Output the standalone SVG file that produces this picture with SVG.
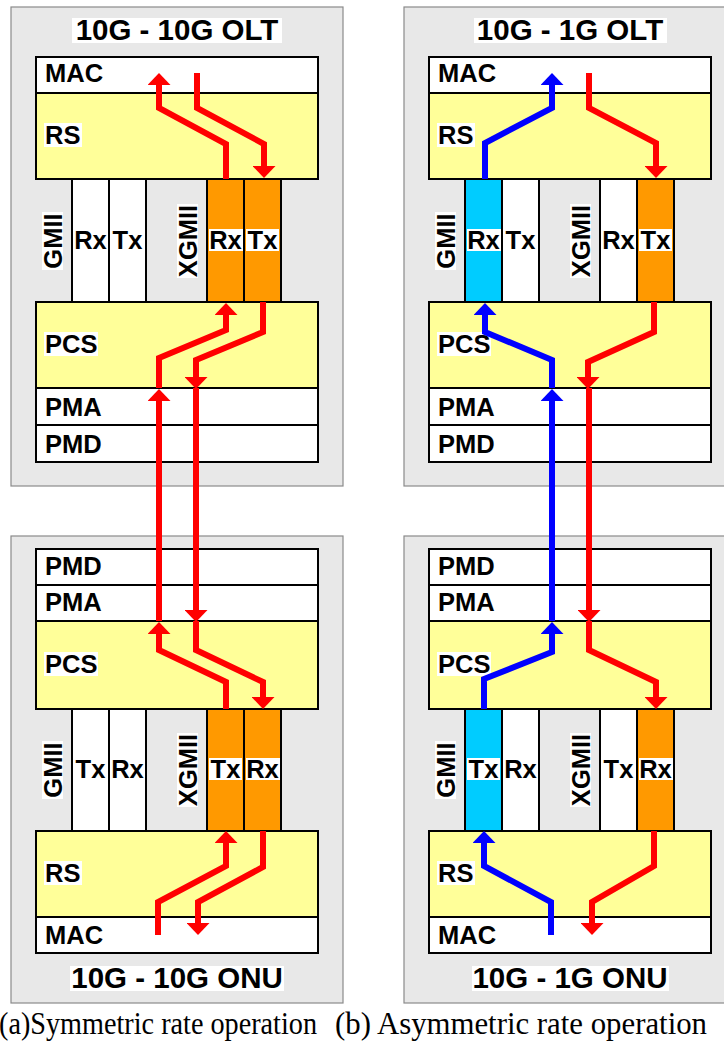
<svg xmlns="http://www.w3.org/2000/svg" width="724" height="1041" viewBox="0 0 724 1041">
<defs>
<style>
.panel{fill:#e8e8e8;stroke:#8a8a8a;stroke-width:1.2}
.w{fill:#ffffff;stroke:#000;stroke-width:2}
.y{fill:#ffff99;stroke:#000;stroke-width:2}
.o{fill:#ff9900;stroke:#000;stroke-width:2}
.c{fill:#00ccff;stroke:#000;stroke-width:2}
.bg{fill:#ffffff;stroke:none}
.lbl{font-family:"Liberation Sans",Arial,sans-serif;font-weight:bold;font-size:25.5px;fill:#000}
.mid{text-anchor:middle}
.ttl{font-family:"Liberation Sans",Arial,sans-serif;font-weight:bold;font-size:29.5px;fill:#000;text-anchor:middle}
.cap{font-family:"Liberation Serif","Times New Roman",serif;font-size:32px;fill:#000}
.red{fill:none;stroke:#ff0000;stroke-width:6;stroke-linejoin:miter;marker-end:url(#ahR)}
.blue{fill:none;stroke:#0000ff;stroke-width:6;stroke-linejoin:miter;marker-end:url(#ahB)}
</style>
<marker id="ahR" viewBox="0 0 12 23" refX="0" refY="11.5" markerWidth="12" markerHeight="23" markerUnits="userSpaceOnUse" orient="auto"><path d="M0,0 L12,11.5 L0,23 z" fill="#ff0000"/></marker>
<marker id="ahB" viewBox="0 0 12 23" refX="0" refY="11.5" markerWidth="12" markerHeight="23" markerUnits="userSpaceOnUse" orient="auto"><path d="M0,0 L12,11.5 L0,23 z" fill="#0000ff"/></marker>
</defs>
<rect width="724" height="1041" fill="#ffffff"/>

<!-- ===== (a) symmetric ===== -->
<g id="a-olt">
<rect class="panel" x="11" y="7" width="332" height="479"/>
<rect class="bg" x="72" y="18" width="210" height="25"/>
<text class="ttl" x="177" y="40">10G - 10G OLT</text>
</g>
<g id="a-olt-mac"><rect class="w" x="36" y="57" width="282" height="36"/><text class="lbl" x="45" y="82">MAC</text></g>
<g id="a-olt-rs"><rect class="y" x="36" y="93" width="282" height="86"/><rect class="bg" x="44" y="123" width="38" height="24"/><text class="lbl" x="45" y="144">RS</text></g>
<g id="a-olt-gmii">
<rect class="w" x="72" y="179" width="37" height="123"/><rect class="w" x="109" y="179" width="37" height="123"/>
<rect class="bg" x="42" y="212" width="21" height="58"/><text class="lbl mid" transform="translate(62,241) rotate(-90)">GMII</text>
<text class="lbl mid" x="90.5" y="249">Rx</text><text class="lbl mid" x="127.5" y="249">Tx</text>
</g>
<g id="a-olt-xgmii">
<rect class="o" x="207" y="179" width="37" height="123"/><rect class="o" x="244" y="179" width="37" height="123"/>
<rect class="bg" x="177" y="204" width="21" height="74"/><text class="lbl mid" transform="translate(197,241) rotate(-90)">XGMII</text>
<rect class="bg" x="209" y="229" width="34" height="22"/><rect class="bg" x="246" y="229" width="33" height="22"/>
<text class="lbl mid" x="225.5" y="249">Rx</text><text class="lbl mid" x="262.5" y="249">Tx</text>
</g>
<g id="a-olt-pcs"><rect class="y" x="36" y="302" width="282" height="86"/><rect class="bg" x="44" y="332" width="54" height="24"/><text class="lbl" x="45" y="353">PCS</text></g>
<g id="a-olt-pma"><rect class="w" x="36" y="388" width="282" height="37"/><text class="lbl" x="45" y="416">PMA</text></g>
<g id="a-olt-pmd"><rect class="w" x="36" y="425" width="282" height="37"/><text class="lbl" x="45" y="453">PMD</text></g>

<g id="a-onu">
<rect class="panel" x="11" y="536" width="332" height="467"/>
<rect class="bg" x="70" y="966" width="214" height="25"/>
<text class="ttl" x="177" y="988">10G - 10G ONU</text>
</g>
<g id="a-onu-pmd"><rect class="w" x="36" y="549" width="282" height="36"/><text class="lbl" x="45" y="575">PMD</text></g>
<g id="a-onu-pma"><rect class="w" x="36" y="585" width="282" height="36"/><text class="lbl" x="45" y="611">PMA</text></g>
<g id="a-onu-pcs"><rect class="y" x="36" y="621" width="282" height="88"/><rect class="bg" x="44" y="652" width="54" height="24"/><text class="lbl" x="45" y="673">PCS</text></g>
<g id="a-onu-gmii">
<rect class="w" x="72" y="709" width="37" height="122"/><rect class="w" x="109" y="709" width="37" height="122"/>
<rect class="bg" x="42" y="741" width="21" height="58"/><text class="lbl mid" transform="translate(62,770) rotate(-90)">GMII</text>
<text class="lbl mid" x="90.5" y="778">Tx</text><text class="lbl mid" x="127.5" y="778">Rx</text>
</g>
<g id="a-onu-xgmii">
<rect class="o" x="207" y="709" width="37" height="122"/><rect class="o" x="244" y="709" width="37" height="122"/>
<rect class="bg" x="177" y="733" width="21" height="74"/><text class="lbl mid" transform="translate(197,770) rotate(-90)">XGMII</text>
<rect class="bg" x="209" y="758" width="33" height="22"/><rect class="bg" x="246" y="758" width="34" height="22"/>
<text class="lbl mid" x="225.5" y="778">Tx</text><text class="lbl mid" x="262.5" y="778">Rx</text>
</g>
<g id="a-onu-rs"><rect class="y" x="36" y="831" width="282" height="86"/><rect class="bg" x="44" y="861" width="38" height="24"/><text class="lbl" x="45" y="882">RS</text></g>
<g id="a-onu-mac"><rect class="w" x="36" y="917" width="282" height="36"/><text class="lbl" x="45" y="944">MAC</text></g>

<!-- ===== (b) asymmetric ===== -->
<g id="b-olt">
<rect class="panel" x="404" y="7" width="332" height="479"/>
<rect class="bg" x="474" y="18" width="193" height="25"/>
<text class="ttl" x="570" y="40">10G - 1G OLT</text>
</g>
<g id="b-olt-mac"><rect class="w" x="429" y="57" width="282" height="36"/><text class="lbl" x="438" y="82">MAC</text></g>
<g id="b-olt-rs"><rect class="y" x="429" y="93" width="282" height="86"/><rect class="bg" x="437" y="123" width="38" height="24"/><text class="lbl" x="438" y="144">RS</text></g>
<g id="b-olt-gmii">
<rect class="c" x="465" y="179" width="37" height="123"/><rect class="w" x="502" y="179" width="37" height="123"/>
<rect class="bg" x="435" y="212" width="21" height="58"/><text class="lbl mid" transform="translate(455,241) rotate(-90)">GMII</text>
<rect class="bg" x="467" y="229" width="34" height="22"/>
<text class="lbl mid" x="483.5" y="249">Rx</text><text class="lbl mid" x="520.5" y="249">Tx</text>
</g>
<g id="b-olt-xgmii">
<rect class="w" x="600" y="179" width="37" height="123"/><rect class="o" x="637" y="179" width="37" height="123"/>
<rect class="bg" x="570" y="204" width="21" height="74"/><text class="lbl mid" transform="translate(590,241) rotate(-90)">XGMII</text>
<rect class="bg" x="639" y="229" width="33" height="22"/>
<text class="lbl mid" x="618.5" y="249">Rx</text><text class="lbl mid" x="655.5" y="249">Tx</text>
</g>
<g id="b-olt-pcs"><rect class="y" x="429" y="302" width="282" height="86"/><rect class="bg" x="437" y="332" width="54" height="24"/><text class="lbl" x="438" y="353">PCS</text></g>
<g id="b-olt-pma"><rect class="w" x="429" y="388" width="282" height="37"/><text class="lbl" x="438" y="416">PMA</text></g>
<g id="b-olt-pmd"><rect class="w" x="429" y="425" width="282" height="37"/><text class="lbl" x="438" y="453">PMD</text></g>

<g id="b-onu">
<rect class="panel" x="404" y="536" width="332" height="467"/>
<rect class="bg" x="472" y="966" width="197" height="25"/>
<text class="ttl" x="570" y="988">10G - 1G ONU</text>
</g>
<g id="b-onu-pmd"><rect class="w" x="429" y="549" width="282" height="36"/><text class="lbl" x="438" y="575">PMD</text></g>
<g id="b-onu-pma"><rect class="w" x="429" y="585" width="282" height="36"/><text class="lbl" x="438" y="611">PMA</text></g>
<g id="b-onu-pcs"><rect class="y" x="429" y="621" width="282" height="88"/><rect class="bg" x="437" y="652" width="54" height="24"/><text class="lbl" x="438" y="673">PCS</text></g>
<g id="b-onu-gmii">
<rect class="c" x="465" y="709" width="37" height="122"/><rect class="w" x="502" y="709" width="37" height="122"/>
<rect class="bg" x="435" y="741" width="21" height="58"/><text class="lbl mid" transform="translate(455,770) rotate(-90)">GMII</text>
<rect class="bg" x="467" y="758" width="33" height="22"/>
<text class="lbl mid" x="483.5" y="778">Tx</text><text class="lbl mid" x="520.5" y="778">Rx</text>
</g>
<g id="b-onu-xgmii">
<rect class="w" x="600" y="709" width="37" height="122"/><rect class="o" x="637" y="709" width="37" height="122"/>
<rect class="bg" x="570" y="733" width="21" height="74"/><text class="lbl mid" transform="translate(590,770) rotate(-90)">XGMII</text>
<rect class="bg" x="639" y="758" width="34" height="22"/>
<text class="lbl mid" x="618.5" y="778">Tx</text><text class="lbl mid" x="655.5" y="778">Rx</text>
</g>
<g id="b-onu-rs"><rect class="y" x="429" y="831" width="282" height="86"/><rect class="bg" x="437" y="861" width="38" height="24"/><text class="lbl" x="438" y="882">RS</text></g>
<g id="b-onu-mac"><rect class="w" x="429" y="917" width="282" height="36"/><text class="lbl" x="438" y="944">MAC</text></g>

<!-- ===== connectors ===== -->
<g id="connectors">
<path class="red" d="M158,935 L158,902 L226,866 L226,843"/>
<path class="red" d="M226,709 L226,682 L159,650 L159,634"/>
<path class="red" d="M159,621 L159,401"/>
<path class="red" d="M159,388 L159,358 L226,330 L226,315"/>
<path class="red" d="M226,179 L226,144 L159,108 L159,85"/>
<path class="red" d="M197,73 L197,108 L264,144 L264,166"/>
<path class="red" d="M263,302 L263,332 L196,360 L196,377"/>
<path class="red" d="M196,388 L196,610"/>
<path class="red" d="M196,621 L196,650 L263,682 L263,697"/>
<path class="red" d="M263,831 L263,867 L198,902 L198,923"/>
<path class="blue" d="M551,935 L551,902 L484,866 L484,843"/>
<path class="blue" d="M484,709 L484,679 L552,652 L552,634"/>
<path class="blue" d="M552,621 L552,401"/>
<path class="blue" d="M552,388 L552,360 L485,332 L485,315"/>
<path class="blue" d="M485,179 L485,143 L552,108 L552,85"/>
<path class="red" d="M589,73 L589,108 L656,143 L656,166"/>
<path class="red" d="M654,302 L654,332 L588,362 L588,377"/>
<path class="red" d="M589,388 L589,610"/>
<path class="red" d="M589,621 L589,650 L656,682 L656,697"/>
<path class="red" d="M654,831 L654,866 L592,902 L592,923"/>
</g>

<g id="captions">
<text class="cap" x="-1" y="1034" textLength="318" lengthAdjust="spacingAndGlyphs">(a)Symmetric rate operation</text>
<text class="cap" x="335" y="1034" textLength="372" lengthAdjust="spacingAndGlyphs">(b) Asymmetric rate operation</text>
</g>
</svg>
